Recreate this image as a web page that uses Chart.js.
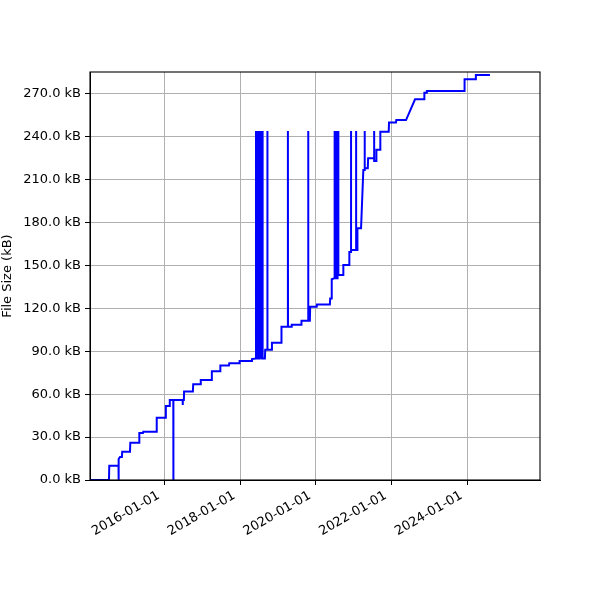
<!DOCTYPE html>
<html>
<head>
<meta charset="utf-8">
<title>File size over time</title>
<script src="https://cdn.jsdelivr.net/npm/chart.js@4.4.0/dist/chart.umd.min.js"></script>
<style>
  html, body { margin: 0; padding: 0; background: #fff; }
  #wrap { width: 600px; height: 600px; }
</style>
</head>
<body>
<div id="wrap"><canvas id="sizeChart"></canvas></div>
<script>
// commit dates and file size (kB)
const dates = [
    '2014-01-11', '2014-07-13', '2014-07-16', '2014-10-13', '2014-10-14', '2014-10-15', '2014-10-27',
    '2014-11-15', '2014-11-18', '2015-02-01', '2015-02-04', '2015-04-29', '2015-05-02', '2015-06-06',
    '2015-06-09', '2015-10-14', '2015-10-17', '2016-01-10', '2016-01-13', '2016-02-17', '2016-02-20',
    '2016-03-25', '2016-03-25', '2016-03-27', '2016-06-23', '2016-06-24', '2016-06-25', '2016-07-05',
    '2016-07-07', '2016-09-30', '2016-10-03', '2016-12-12', '2016-12-15', '2017-03-29', '2017-04-01',
    '2017-06-19', '2017-06-22', '2017-09-13', '2017-09-16', '2017-12-22', '2017-12-25', '2018-04-20',
    '2018-04-23', '2018-05-31',
    '2018-06-01', '2018-06-04', '2018-06-08', '2018-06-11', '2018-06-15', '2018-06-18', '2018-06-22',
    '2018-06-25', '2018-06-29', '2018-07-02', '2018-07-06', '2018-07-09', '2018-07-13', '2018-07-16',
    '2018-07-20', '2018-07-23', '2018-07-27', '2018-07-30', '2018-08-03', '2018-08-05',
    '2018-08-26', '2018-08-29', '2018-09-19', '2018-09-19', '2018-09-20', '2018-10-30', '2018-11-02',
    '2019-01-30', '2019-02-02', '2019-04-05', '2019-04-05', '2019-04-06', '2019-05-09', '2019-05-12',
    '2019-08-11', '2019-08-14', '2019-10-18', '2019-10-18', '2019-10-19', '2019-11-03', '2019-11-06',
    '2020-01-08', '2020-01-11', '2020-05-14', '2020-05-17', '2020-05-29', '2020-06-01', '2020-06-25',
    '2020-06-26', '2020-06-29', '2020-07-02', '2020-07-05', '2020-07-08', '2020-07-11', '2020-07-14',
    '2020-07-17', '2020-07-20', '2020-07-23', '2020-07-26', '2020-07-29', '2020-08-01', '2020-08-04',
    '2020-09-18', '2020-09-21', '2020-11-15', '2020-11-18', '2020-12-04', '2020-12-04', '2020-12-05',
    '2021-01-22', '2021-01-22', '2021-01-23', '2021-02-01', '2021-02-04', '2021-03-11', '2021-04-02',
    '2021-04-12', '2021-04-12', '2021-04-13', '2021-04-17', '2021-04-17', '2021-04-18', '2021-05-15',
    '2021-05-18', '2021-07-15', '2021-07-15', '2021-07-16', '2021-08-03', '2021-08-06', '2021-09-10',
    '2021-09-13', '2021-12-03', '2021-12-06', '2022-02-11', '2022-02-14', '2022-05-19', '2022-08-14',
    '2022-11-09', '2022-11-12', '2022-12-03', '2022-12-06', '2023-12-02', '2023-12-05', '2024-03-20',
    '2024-03-23', '2024-08-06'
];
const sizes = [
    0, 0, 10, 10, 0, 14.7, 16,
    16, 19.8, 19.8, 26, 26, 32.8, 32.8,
    33.8, 33.8, 43.6, 43.6, 51.7, 51.7, 56,
    56, 0, 56, 56, 52.5, 56, 56,
    61.8, 61.8, 67, 67, 70, 70, 76,
    76, 80, 80, 81.6, 81.6, 83.2, 83.2,
    84.6, 85,
    244, 85, 244, 85, 244, 85, 244,
    85, 244, 85, 244, 85, 244, 85,
    244, 85, 244, 85, 244, 85,
    85, 91, 91, 244, 91, 91, 96,
    96, 107.2, 107.2, 244, 107.2, 107.2, 108.6,
    108.6, 111.4, 111.4, 244, 111.4, 111.4, 121.2,
    121.2, 122.8, 122.8, 127, 127, 140.4, 141,
    244, 141, 244, 141, 244, 141, 244,
    141, 244, 141, 244, 141, 244, 143.4,
    143.4, 150.4, 150.4, 159.5, 159.5, 244, 160.8,
    160.8, 244, 160.8, 160.8, 176, 176, 216.8,
    216.8, 244, 217, 217, 244, 218, 218,
    225, 225, 244, 223, 223, 231, 231,
    243.6, 243.6, 250, 250, 251.7, 251.7, 266.2,
    266.2, 270.8, 270.8, 272, 272, 280.2, 280.2,
    283.2, 283.2
];
const xTickDates = ['2016-01-01', '2018-01-01', '2020-01-01', '2022-01-01', '2024-01-01'];
const yTicks = [0, 30, 60, 90, 120, 150, 180, 210, 240, 270];
const xRange = ['2014-01-11', '2025-12-02'];
const yRange = [0, 285.3];

const points = dates.map((d, i) => ({ x: Date.parse(d), y: sizes[i] }));
const tickFont = { family: 'DejaVu Sans', size: 13 };

// black box around the plot area, like matplotlib spines
const framePlugin = {
    id: 'frame',
    afterDraw(chart) {
        const { ctx, chartArea: a } = chart;
        ctx.save();
        ctx.strokeStyle = '#000';
        ctx.lineWidth = 1.1;
        ctx.strokeRect(a.left, a.top, a.right - a.left, a.bottom - a.top);
        ctx.restore();
    }
};

new Chart(document.getElementById('sizeChart').getContext('2d'), {
    type: 'line',
    data: {
        datasets: [{
            data: points,
            borderColor: '#0000ff',
            borderWidth: 2,
            pointRadius: 0,
            tension: 0,
            fill: false
        }]
    },
    options: {
        responsive: true,
        maintainAspectRatio: false,
        animation: false,
        layout: { padding: { top: 72, right: 60, left: 0, bottom: 0 } },
        plugins: { legend: { display: false }, tooltip: { enabled: false } },
        scales: {
            x: {
                type: 'linear',
                min: Date.parse(xRange[0]),
                max: Date.parse(xRange[1]),
                afterBuildTicks: scale => {
                    scale.ticks = xTickDates.map(d => ({ value: Date.parse(d) }));
                },
                afterFit: scale => { scale.height = 120; },
                grid: { color: '#b0b0b0', lineWidth: 1, tickColor: '#000', tickLength: 5 },
                border: { display: true, color: '#000' },
                ticks: {
                    autoSkip: false,
                    minRotation: 30,
                    maxRotation: 30,
                    padding: 3,
                    labelOffset: -6,
                    color: '#000',
                    font: tickFont,
                    callback: v => new Date(v).toISOString().slice(0, 10)
                }
            },
            y: {
                min: yRange[0],
                max: yRange[1],
                afterBuildTicks: scale => {
                    scale.ticks = yTicks.map(v => ({ value: v }));
                },
                afterFit: scale => { scale.width = 90; },
                grid: { color: '#b0b0b0', lineWidth: 1, tickColor: '#000', tickLength: 5 },
                border: { display: true, color: '#000' },
                title: {
                    display: true,
                    text: 'File Size (kB)',
                    color: '#000',
                    font: tickFont,
                    padding: 0
                },
                ticks: {
                    padding: 4,
                    color: '#000',
                    font: tickFont,
                    callback: v => v.toFixed(1) + ' kB'
                }
            }
        }
    },
    plugins: [framePlugin]
});
</script>
</body>
</html>
